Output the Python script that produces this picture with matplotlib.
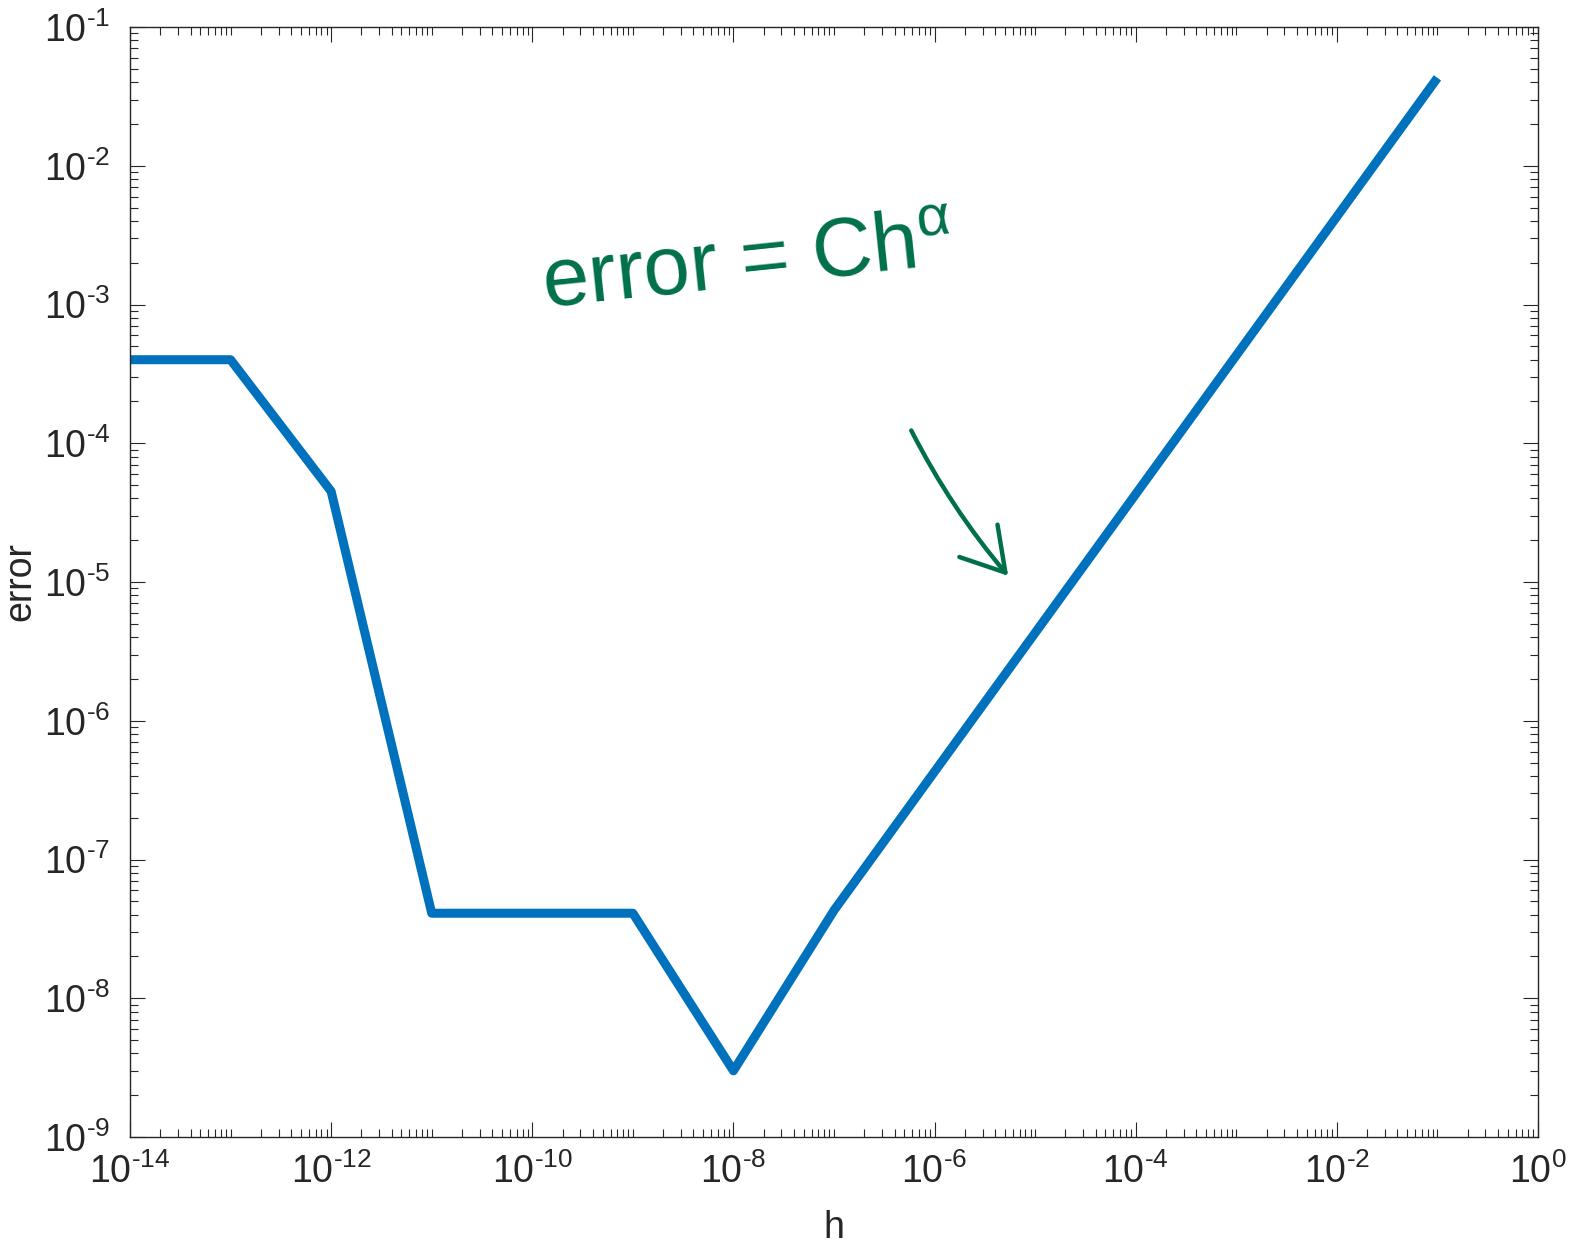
import matplotlib
matplotlib.use('Agg')
import matplotlib.pyplot as plt
import numpy as np
from matplotlib.ticker import FixedLocator, FuncFormatter, NullFormatter

plt.rcParams.update({
    'font.family': 'Liberation Sans',
    'mathtext.fontset': 'custom',
    'mathtext.rm': 'Liberation Sans',
    'mathtext.it': 'Liberation Sans',
    'mathtext.default': 'regular',
    'axes.unicode_minus': False,
    'axes.linewidth': 1.0,
})

# data: forward-difference error vs step size
h = [1e-14, 1e-13, 1e-12, 1e-11, 1e-10, 1e-9, 1e-8,
     1e-7, 1e-6, 1e-5, 1e-4, 1e-3, 1e-2, 1e-1]
err = [4.0e-4, 4.0e-4, 4.5e-5, 4.1e-8, 4.1e-8, 4.1e-8, 3.0e-9,
       4.3e-8, 4.3e-7, 4.3e-6, 4.3e-5, 4.3e-4, 4.3e-3, 4.3e-2]

xmajor = [10.0**k for k in range(-14, 1, 2)]
ymajor = [10.0**k for k in range(-9, 0)]

ink = '#262626'
green = '#00704a'


def pow10(v, pos):
    # MATLAB style exponent with a plain hyphen
    e = int(round(np.log10(v)))
    return r'$10^{\text{%d}}$' % e


fig = plt.figure(figsize=(15.74, 12.48), dpi=100)
ax = fig.add_axes([130/1574, 1 - 1137/1248, 1408/1574, 1110/1248])

ax.loglog(h, err, color='#0072BD', linewidth=6.5, solid_capstyle='butt')

ax.set_xlim(1e-14, 1)
ax.set_ylim(1e-9, 1e-1)

ax.xaxis.set_major_locator(FixedLocator(xmajor))
xminor = [m * 10.0**d for d in range(-14, 0) for m in range(1, 10)
          if m * 10.0**d not in xmajor]
ax.xaxis.set_minor_locator(FixedLocator(xminor))
ax.yaxis.set_major_locator(FixedLocator(ymajor))
yminor = [m * 10.0**d for d in range(-9, -1) for m in range(2, 10)]
ax.yaxis.set_minor_locator(FixedLocator(yminor))
ax.xaxis.set_major_formatter(FuncFormatter(pow10))
ax.yaxis.set_major_formatter(FuncFormatter(pow10))
ax.xaxis.set_minor_formatter(NullFormatter())
ax.yaxis.set_minor_formatter(NullFormatter())

ax.tick_params(which='both', direction='in', top=True, right=True,
               colors=ink, labelsize=27, width=0.8)
ax.tick_params(which='major', length=11)
ax.tick_params(axis='y', which='major', pad=14)
ax.tick_params(axis='x', which='major', pad=12)
ax.tick_params(which='minor', length=6)
for s in ax.spines.values():
    s.set_color(ink)

ax.set_xlabel('h', fontsize=27, color=ink)
ax.set_ylabel('error', fontsize=27, color=ink)
ax.xaxis.set_label_coords(0.5, -0.066)
ax.yaxis.set_label_coords(-0.065, 0.5)

# handwritten annotations
fig.text(538/1574, 1 - 308/1248, r'error = Ch$^{\alpha}$', color=green,
         fontsize=60, rotation=6, ha='left', va='baseline')
fig.add_artist(matplotlib.patches.FancyArrowPatch(
    (910/1574, 1 - 428/1248), (1010/1574, 1 - 578/1248),
    transform=fig.transFigure, arrowstyle='->,head_length=1.5,head_width=0.9',
    connectionstyle='arc3,rad=0.06', color=green, linewidth=3.2,
    mutation_scale=20))

fig.savefig('out.png', dpi=100, facecolor='white')
